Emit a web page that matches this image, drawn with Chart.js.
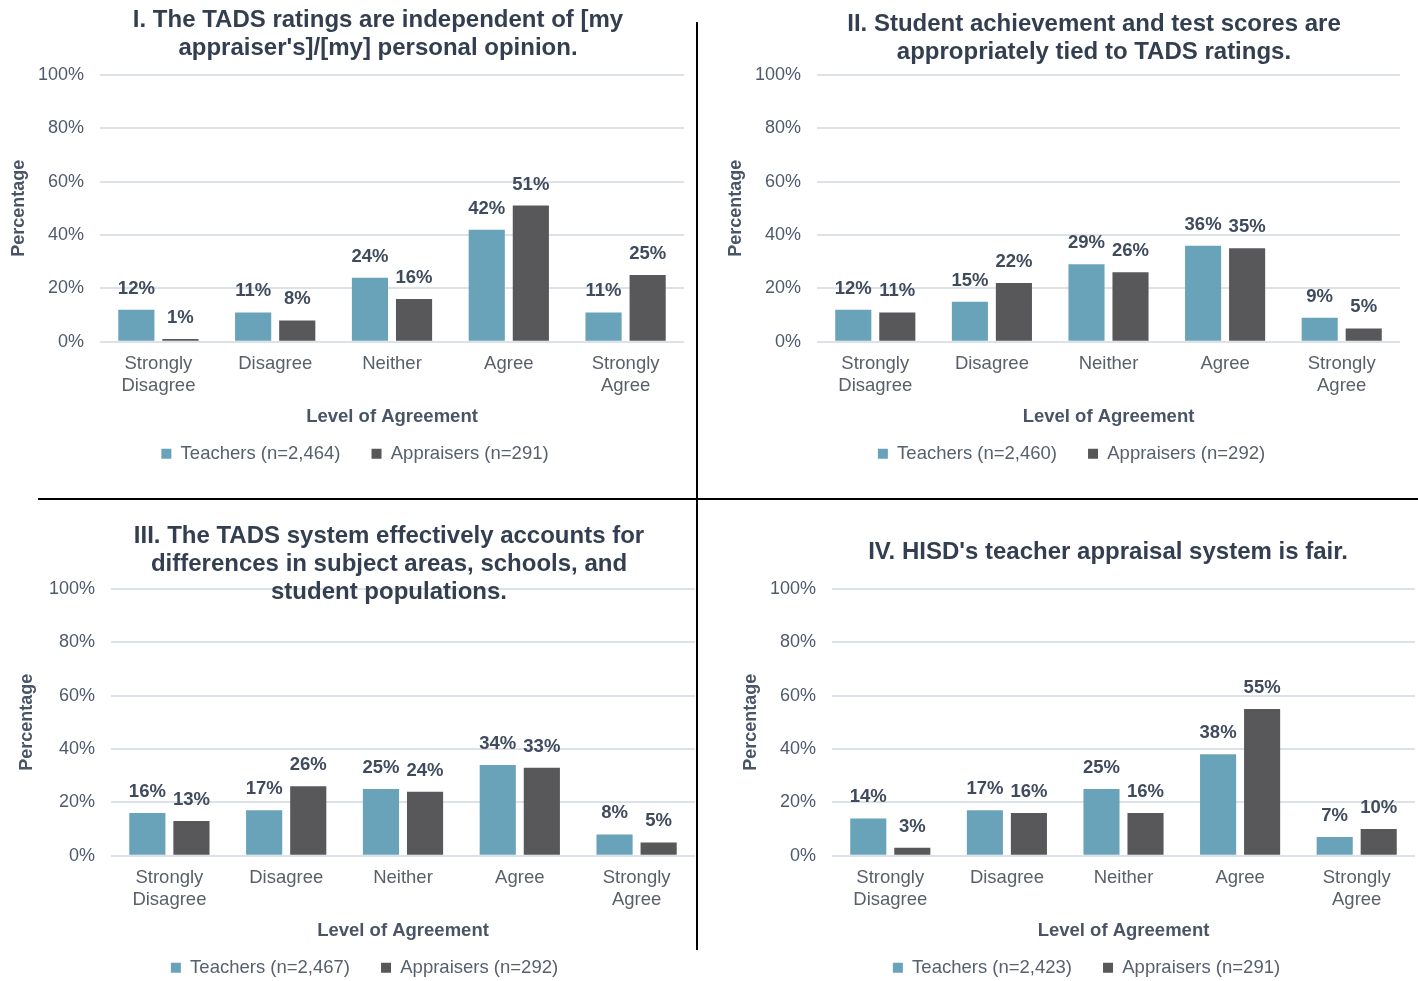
<!DOCTYPE html>
<html>
<head>
<meta charset="utf-8">
<script src="https://cdn.jsdelivr.net/npm/chart.js@4.4.1/dist/chart.umd.min.js"></script>
<style>
  html, body { margin: 0; padding: 0; background: #fff; overflow: hidden; }
  body { width: 1418px; height: 981px; position: relative; font-family: "Liberation Sans", Arial, sans-serif; }
  canvas { position: absolute; }
  .title { position: absolute; width: 720px; text-align: center; font-weight: bold; font-size: 24px; line-height: 28px; color: #333f50; }
  .vline { position: absolute; left: 696px; top: 22px; width: 1.5px; height: 928px; background: #000; }
  .hline { position: absolute; left: 38px; top: 498px; width: 1380px; height: 1.5px; background: #000; }
</style>
</head>
<body>
<div class="vline"></div>
<div class="hline"></div>
<canvas id="c1" width="695" height="425"></canvas>
<canvas id="c2" width="694" height="425"></canvas>
<canvas id="c3" width="689" height="425"></canvas>
<canvas id="c4" width="686" height="425"></canvas>
<script>
// survey data (percent)
const categories = [["Strongly", "Disagree"], "Disagree", "Neither", "Agree", ["Strongly", "Agree"]];
const yTicks = [0, 20, 40, 60, 80, 100];

const titles1 = ["I. The TADS ratings are independent of [my", "appraiser's]/[my] personal opinion."];
const titles2 = ["II. Student achievement and test scores are", "appropriately tied to TADS ratings."];
const titles3 = ["III. The TADS system effectively accounts for", "differences in subject areas, schools, and", "student populations."];
const titles4 = ["IV. HISD's teacher appraisal system is fair."];

const teachers1 = [12, 11, 24, 42, 11];
const appraisers1 = [1, 8, 16, 51, 25];
const teachers2 = [12, 15, 29, 36, 9];
const appraisers2 = [11, 22, 26, 35, 5];
const teachers3 = [16, 17, 25, 34, 8];
const appraisers3 = [13, 26, 24, 33, 5];
const teachers4 = [14, 17, 25, 38, 7];
const appraisers4 = [3, 16, 16, 55, 10];

const teacherN = ["2,464", "2,460", "2,467", "2,423"];
const appraiserN = ["291", "292", "292", "291"];

const FONT = '"Liberation Sans", Arial, sans-serif';
const BLUE = "#68a3ba";
const GREY = "#58585a";

// layout of each panel on the page
const panels = [
  { id: "c1", left: 0,   top: 48,  pad: { left: 26, right: 11, top: 0, bottom: 0 }, yWidth: 74, titleX: 378,  titleTop: 5,   titles: titles1, t: teachers1, a: appraisers1 },
  { id: "c2", left: 717, top: 48,  pad: { left: 26, right: 11, top: 0, bottom: 0 }, yWidth: 74, titleX: 1094, titleTop: 9,   titles: titles2, t: teachers2, a: appraisers2 },
  { id: "c3", left: 8,   top: 562, pad: { left: 26, right: 2,  top: 0, bottom: 0 }, yWidth: 77, titleX: 389,  titleTop: 521, titles: titles3, t: teachers3, a: appraisers3 },
  { id: "c4", left: 732, top: 562, pad: { left: 26, right: 3,  top: 0, bottom: 0 }, yWidth: 74, titleX: 1108, titleTop: 537, titles: titles4, t: teachers4, a: appraisers4 }
];

const barLabels = {
  id: "barLabels",
  afterDatasetsDraw(chart) {
    const ctx = chart.ctx;
    ctx.save();
    ctx.font = "bold 18.5px " + FONT;
    ctx.fillStyle = "#404c5e";
    ctx.textAlign = "center";
    ctx.textBaseline = "middle";
    chart.data.datasets.forEach((ds, di) => {
      chart.getDatasetMeta(di).data.forEach((bar, i) => {
        ctx.fillText(ds.data[i] + "%", bar.x, bar.y - 21);
      });
    });
    ctx.restore();
  }
};

panels.forEach((p, k) => {
  const cv = document.getElementById(p.id);
  cv.style.left = p.left + "px";
  cv.style.top = p.top + "px";

  const t = document.createElement("div");
  t.className = "title";
  t.style.left = (p.titleX - 360) + "px";
  t.style.top = p.titleTop + "px";
  t.innerHTML = p.titles.join("<br>");
  document.body.appendChild(t);

  new Chart(cv.getContext("2d"), {
    type: "bar",
    data: {
      labels: categories,
      datasets: [
        { label: "Teachers (n=" + teacherN[k] + ")", data: p.t, backgroundColor: BLUE, borderWidth: 0,
          categoryPercentage: 0.755, barPercentage: 0.82 },
        { label: "Appraisers (n=" + appraiserN[k] + ")", data: p.a, backgroundColor: GREY, borderWidth: 0,
          categoryPercentage: 0.755, barPercentage: 0.82 }
      ]
    },
    options: {
      responsive: false,
      animation: false,
      layout: { padding: p.pad },
      plugins: {
        legend: {
          position: "bottom",
          labels: { boxWidth: 10, boxHeight: 10, padding: 31, color: "#57606d", font: { family: FONT, size: 18.5 } }
        },
        tooltip: { enabled: false }
      },
      scales: {
        x: {
          grid: { display: false },
          border: { display: false },
          ticks: { color: "#5a6069", padding: 4, font: { family: FONT, size: 18.5, lineHeight: 1.15 } },
          title: { display: true, text: "Level of Agreement", color: "#4a5467",
                   padding: { top: 6, bottom: -15 }, font: { family: FONT, size: 18.5, weight: "bold" } }
        },
        y: {
          min: 0, max: 100,
          afterBuildTicks(scale) { scale.ticks = yTicks.map(v => ({ value: v })); },
          afterFit(scale) { scale.width = p.yWidth; },
          grid: { color: "#dde2e8", lineWidth: 2, drawTicks: false },
          border: { display: false },
          ticks: { color: "#4f5a6c", padding: 16, font: { family: FONT, size: 18 }, callback: v => v + "%" },
          title: { display: true, text: "Percentage", color: "#4a5467", padding: { top: -18, bottom: 4 },
                   font: { family: FONT, size: 18, weight: "bold" } }
        }
      }
    },
    plugins: [barLabels]
  });
});
</script>
</body>
</html>
